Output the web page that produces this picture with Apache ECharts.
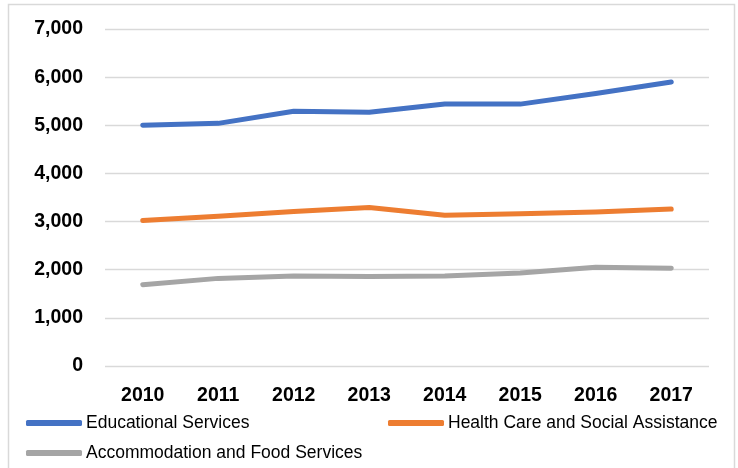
<!DOCTYPE html>
<html>
<head>
<meta charset="utf-8">
<script src="https://cdn.jsdelivr.net/npm/echarts@6/dist/echarts.min.js"></script>
<style>
  html, body { margin: 0; padding: 0; background: #fff; }
  #chart { width: 738px; height: 468px; }
</style>
</head>
<body>
<div id="chart"></div>
<script>
// Annual values by industry, 2010–2017
const years = ['2010', '2011', '2012', '2013', '2014', '2015', '2016', '2017'];
const educational = [5000, 5040, 5290, 5270, 5440, 5440, 5660, 5900];
const healthCare = [3020, 3110, 3210, 3290, 3130, 3160, 3200, 3260];
const accommodation = [1690, 1820, 1870, 1860, 1870, 1930, 2050, 2030];

const seriesNames = [
  'Educational Services',
  'Health Care and Social Assistance',
  'Accommodation and Food Services'
];
const seriesColors = ['#4472C4', '#ED7D31', '#A5A5A5'];
const seriesValues = [educational, healthCare, accommodation];

const FONT = '"Liberation Sans", Arial, sans-serif';

function legendAt(name, left, top) {
  return {
    data: [name],
    left: left,
    top: top,
    orient: 'horizontal',
    padding: 0,
    icon: 'roundRect',
    itemWidth: 56,
    itemHeight: 6,
    selectedMode: false,
    textStyle: { fontFamily: FONT, fontSize: 17.5, color: '#000', padding: [0, 0, 0, -1] }
  };
}

const chart = echarts.init(document.getElementById('chart'), null, { renderer: 'canvas' });

chart.setOption({
  animation: false,
  backgroundColor: '#fff',
  graphic: [{
    type: 'rect',
    shape: { x: 8.5, y: 4.5, width: 726, height: 480 },
    style: { fill: 'none', stroke: '#d9d9d9', lineWidth: 1.5 },
    silent: true,
    z: -10
  }],
  grid: { left: 105, right: 29, top: 29, bottom: 102, containLabel: false },
  legend: [
    legendAt(seriesNames[0], 26, 414),
    legendAt(seriesNames[1], 388, 414),
    legendAt(seriesNames[2], 26, 444)
  ],
  xAxis: {
    type: 'category',
    data: years,
    boundaryGap: true,
    axisLine: { show: false },
    axisTick: { show: false },
    axisLabel: { fontFamily: FONT, fontSize: 19.5, fontWeight: 'bold', color: '#000', margin: 20 }
  },
  yAxis: {
    type: 'value',
    min: 0,
    max: 7000,
    interval: 1000,
    axisLine: { show: false },
    axisTick: { show: false },
    splitLine: { lineStyle: { color: '#d9d9d9', width: 1.3 } },
    axisLabel: {
      fontFamily: FONT, fontSize: 19.5, fontWeight: 'bold', color: '#000', margin: 22,
      formatter: v => v.toLocaleString('en-US')
    }
  },
  series: seriesNames.map((name, i) => ({
    name: name,
    type: 'line',
    data: seriesValues[i],
    color: seriesColors[i],
    showSymbol: false,
    symbol: 'none',
    lineStyle: { width: 5, color: seriesColors[i], cap: 'round', join: 'round' }
  }))
});
</script>
</body>
</html>
